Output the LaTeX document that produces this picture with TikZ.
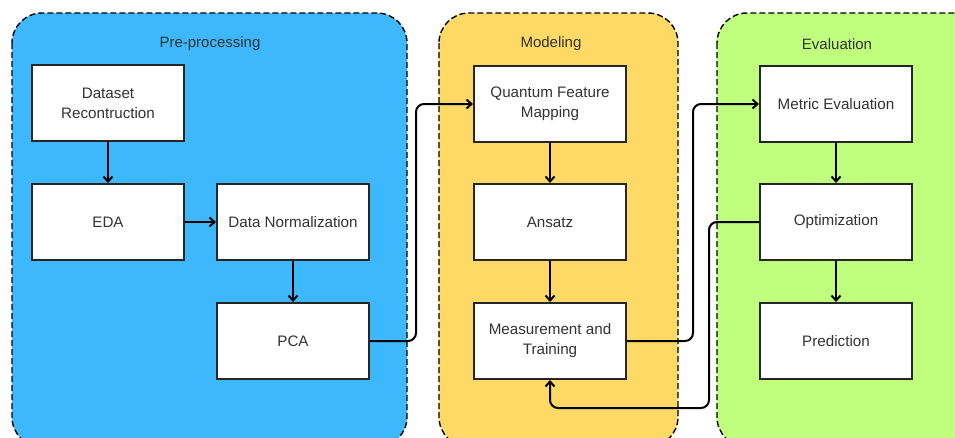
\documentclass[tikz,border=0pt]{standalone}
\usepackage{fontspec}
\setmainfont{Liberation Sans}
\usetikzlibrary{arrows.meta}
\definecolor{prebg}{HTML}{3DB8FC}
\definecolor{modbg}{HTML}{FFD966}
\definecolor{evalbg}{HTML}{C0FF7E}
\definecolor{txt}{HTML}{333333}
\begin{document}
\begin{tikzpicture}[x=1pt, y=-1pt,
    group/.style={draw=black, line width=1.4pt, dash pattern=on 6pt off 3pt, rounded corners=30pt},
    title/.style={text=txt, font=\fontsize{15}{17}\selectfont},
    box/.style={draw=black!85, line width=2pt, fill=white, minimum width=152pt, minimum height=76pt,
      align=center, text=txt, font=\fontsize{15.2}{20}\selectfont},
    arr/.style={line width=2pt, -{Straight Barb[length=5pt, width=9pt]}, rounded corners=8pt}]
    \useasboundingbox (0,0) rectangle (955,437);
    \clip (0,0) rectangle (955,437);

    % グループの背景
    \draw[group, fill=prebg] (12,13) rectangle (407,447);
    \draw[group, fill=modbg] (439,13) rectangle (678,447);
    \draw[group, fill=evalbg] (717,13) rectangle (985,447);
    \node[title] (tpre) at (210,44) {Pre-processing};
    \node[title] (tmod) at (551,44) {Modeling};
    \node[title] (teval) at (837,44) {Evaluation};

    % ノードの定義
    \node[box] (dr) at (108,103) {Dataset\\Recontruction};
    \node[box] (eda) at (108,222) {EDA};
    \node[box] (dn) at (293,222) {Data Normalization};
    \node[box] (pca) at (293,341) {PCA};
    \node[box] (qfm) at (550,104) {Quantum Feature\\Mapping};
    \node[box] (ans) at (550,222) {Ansatz};
    \node[box] (mt) at (550,341) {Measurement and\\Training};
    \node[box] (met) at (836,104) {Metric Evaluation};
    \node[box] (opt) at (836,222) {Optimization};
    \node[box] (pred) at (836,341) {Prediction};
    \coordinate (fb) at (709,408);

    % 矢印を引く
    \draw[arr] (dr) -- (eda);
    \draw[arr] (eda) -- (dn);
    \draw[arr] (dn) -- (pca);
    \draw[arr] (pca.east) -- ++(46,0) |- (qfm.west);
    \draw[arr] (qfm) -- (ans);
    \draw[arr] (ans) -- (mt);
    \draw[arr] (mt.east) -- ++(66,0) |- (met.west);
    \draw[arr] (met) -- (opt);
    \draw[arr] (opt) -- (pred);
    \draw[arr] (opt.west) -| (fb) -| (mt.south);

  \end{tikzpicture}
\end{document}
